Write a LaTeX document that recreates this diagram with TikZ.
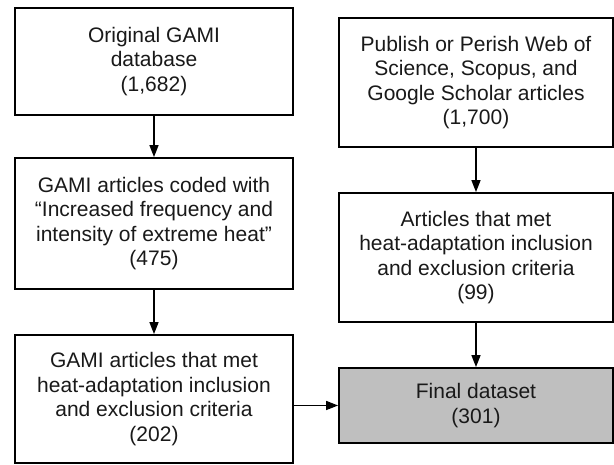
\documentclass[tikz,border=0pt]{standalone}
\usepackage{fontspec}
\setmainfont{Liberation Sans}
\usetikzlibrary{arrows.meta}
\begin{document}
\begin{tikzpicture}[x=1pt,y=1pt,
  box/.style={draw=black, line width=1.8pt, fill=white, rectangle, inner sep=0pt,
    align=center, text=black!90, font=\fontsize{21}{24.5}\selectfont},
  lbox/.style={box, minimum width=278pt},
  rbox/.style={box, minimum width=274pt},
  arr/.style={draw=black, line width=1.4pt, -{Triangle[length=12pt,width=9pt]}}]
\useasboundingbox[fill=white] (0,0) rectangle (614,465);
\node[lbox, minimum height=107pt] (b1) at (154,403.5) {Original GAMI\\database\\(1,682)};
\node[lbox, minimum height=131pt] (b2) at (154,241.5) {GAMI articles coded with\\“Increased frequency and\\intensity of extreme heat”\\(475)};
\node[lbox, minimum height=128pt] (b3) at (154,66) {GAMI articles that met\\heat-adaptation inclusion\\and exclusion criteria\\(202)};
\node[rbox, minimum height=129pt] (b4) at (476,382.5) {Publish or Perish Web of\\Science, Scopus, and\\Google Scholar articles\\(1,700)};
\node[rbox, minimum height=129pt] (b5) at (476,207.5) {Articles that met\\heat-adaptation inclusion\\and exclusion criteria\\(99)};
\node[rbox, minimum height=75pt, fill=black!25] (fin) at (476,59.5) {Final dataset\\(301)};
\draw[arr] (b1) -- (b2);
\draw[arr] (b2) -- (b3);
\draw[arr] (b4) -- (b5);
\draw[arr] (b5) -- (fin);
\draw[arr] (b3.east |- fin.west) -- (fin.west);
\end{tikzpicture}
\end{document}
